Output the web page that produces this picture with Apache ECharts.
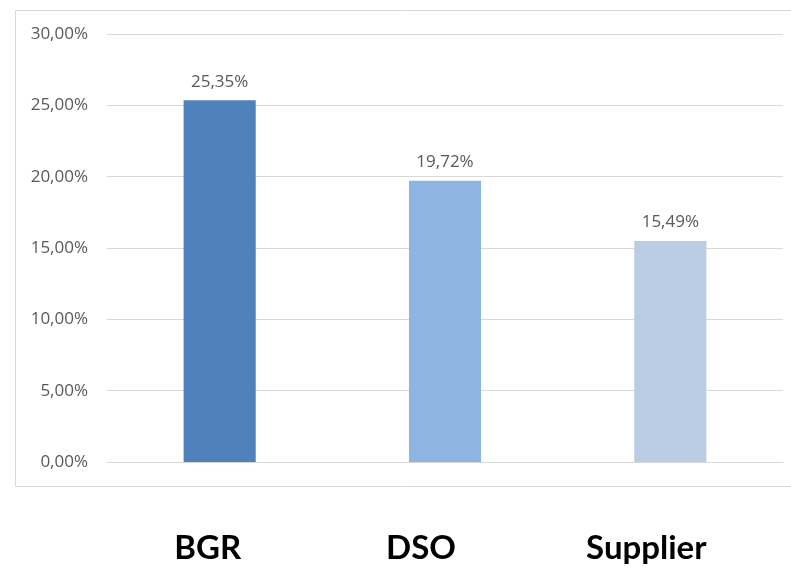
<!DOCTYPE html>
<html><head><meta charset="utf-8">
<script src="https://cdn.jsdelivr.net/npm/echarts@6/dist/echarts.min.js"></script>
<style>html,body{margin:0;padding:0;background:#fff}#c{width:791px;height:568px}</style>
</head><body><div id="c"></div>
<script>
const categories = ['BGR', 'DSO', 'Supplier'];
const values = [25.35, 19.72, 15.49];
const barColors = ['#4F81BD', '#8DB4E2', '#B9CDE5'];
const yTicks = [0, 5, 10, 15, 20, 25, 30];
const labelShift = [24, 48, 48];

const fmt = v => v.toFixed(2).replace('.', ',') + '%';
const chart = echarts.init(document.getElementById('c'));
chart.setOption({
  animation: false,
  graphic: [{
    type: 'rect', left: 15, top: 10, z: -1,
    shape: { width: 790, height: 476 },
    style: { fill: '#fff', stroke: '#D9D9D9', lineWidth: 1 }
  }],
  grid: { left: 107, right: 8, top: 34, bottom: 106 },
  xAxis: {
    type: 'category',
    data: categories.map((c, i) => ({ value: c, textStyle: { padding: [0, labelShift[i], 0, 0] } })),
    axisLine: { show: true, lineStyle: { color: '#D9D9D9' } },
    axisTick: { show: false },
    axisLabel: { margin: 70, color: '#000', fontSize: 33, fontWeight: 'bold', fontFamily: 'Lato' }
  },
  yAxis: {
    type: 'value', min: yTicks[0], max: yTicks[yTicks.length - 1], interval: 5,
    axisLine: { show: false }, axisTick: { show: false },
    splitLine: { lineStyle: { color: '#D9D9D9', width: 1 } },
    axisLabel: { margin: 19, color: '#595959', fontSize: 17, fontFamily: 'Open Sans', formatter: fmt }
  },
  series: [{
    type: 'bar', barWidth: '32%',
    data: values.map((v, i) => ({ value: v, itemStyle: { color: barColors[i] } })),
    label: { show: true, position: 'top', distance: 10, color: '#595959', fontSize: 17, fontFamily: 'Open Sans',
      formatter: p => fmt(p.value) }
  }]
});
</script></body></html>
